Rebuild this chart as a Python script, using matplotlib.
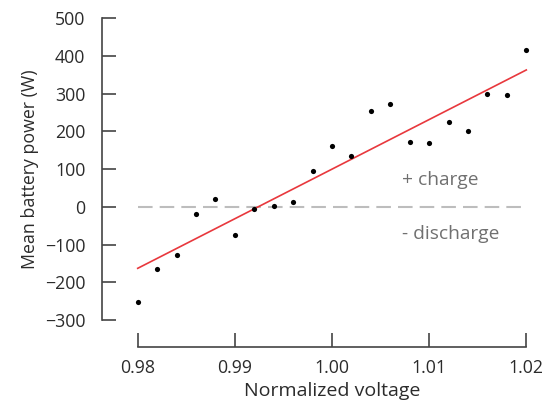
import matplotlib
matplotlib.use("Agg")
import matplotlib.pyplot as plt
import numpy as np

plt.rcParams['font.family'] = ['Open Sans', 'DejaVu Sans']

# Data
voltage = [0.980, 0.982, 0.984, 0.986, 0.988, 0.990, 0.992, 0.994, 0.996, 0.998,
           1.000, 1.002, 1.004, 1.006, 1.008, 1.010, 1.012, 1.014, 1.016, 1.018, 1.020]
power = [-251, -166, -128, -19, 20, -74, -7, 1, 12, 96,
         162, 134, 253, 272, 171, 168, 226, 202, 299, 297, 416]
fit_x = [0.980, 1.020]
fit_y = [-163, 363]
x_ticks = [0.98, 0.99, 1.00, 1.01, 1.02]
x_tick_labels = ["0.98", "0.99", "1.00", "1.01", "1.02"]
y_ticks = [-300, -200, -100, 0, 100, 200, 300, 400, 500]

fig = plt.figure(figsize=(5.48, 4.03), dpi=100)
ax = fig.add_axes([0.2513, 0.2060, 0.7091, 0.7486])

ax.plot([0.980, 1.0195], [0, 0], color='#bdbdbd', lw=1.5, dashes=(7.0, 3.4), zorder=1)
ax.plot(fit_x, fit_y, color='#e8383d', lw=1.2, zorder=2, clip_on=False)
ax.scatter(voltage, power, s=14, color='black', zorder=3, clip_on=False, linewidths=0)

ax.text(1.0072, 70, "+ charge", color='#707070', fontsize=13.8, va='center', ha='left')
ax.text(1.0072, -72, "- discharge", color='#707070', fontsize=13.8, va='center', ha='left')

ax.set_xlim(0.98, 1.02)
ax.set_ylim(-300, 500)
ax.set_xticks(x_ticks)
ax.set_xticklabels(x_tick_labels)
ax.set_yticks(y_ticks)

for s in ['top', 'right']:
    ax.spines[s].set_visible(False)
ax.spines['left'].set_position(('outward', 25.7))
ax.spines['bottom'].set_position(('outward', 19.4))
for s in ['left', 'bottom']:
    ax.spines[s].set_color('#444444')
    ax.spines[s].set_linewidth(1.2)

ax.tick_params(axis='both', direction='in', length=10, width=1.2, color='#444444',
               labelsize=12.8, labelcolor='#2b2b2b')
ax.tick_params(axis='y', pad=12)
ax.tick_params(axis='x', pad=9)

ax.set_xlabel("Normalized voltage", fontsize=14, color='#2b2b2b', labelpad=3)
ax.set_ylabel("Mean battery power (W)", fontsize=12.8, color='#2b2b2b', labelpad=4)

fig.savefig("out.png", dpi=100)
